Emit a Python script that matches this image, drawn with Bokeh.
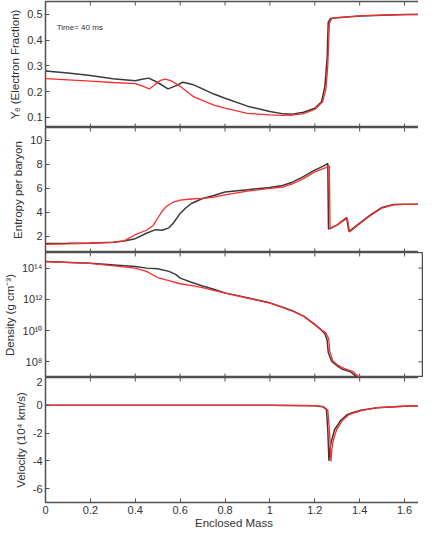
import math
from bokeh.plotting import figure
from bokeh.layouts import column
from bokeh.models import FixedTicker, Range1d, Label
from bokeh.embed import file_html
from bokeh.resources import INLINE

# ---------------- data ----------------
x_ticks = [0, 0.2, 0.4, 0.6, 0.8, 1.0, 1.2, 1.4, 1.6]
x_tick_labels = ["0", "0.2", "0.4", "0.6", "0.8", "1", "1.2", "1.4", "1.6"]

# Panel 1: electron fraction
ye_ticks = [0.1, 0.2, 0.3, 0.4, 0.5]
ye_black_mass = [0, 0.1, 0.2, 0.3, 0.4, 0.43, 0.46, 0.5, 0.546, 0.58, 0.612, 0.66, 0.7, 0.75, 0.8,
                 0.9, 1.0, 1.06, 1.1, 1.15, 1.2, 1.23, 1.245, 1.255, 1.26, 1.27, 1.3, 1.4, 1.5, 1.6, 1.68]
ye_black = [0.28, 0.272, 0.262, 0.25, 0.242, 0.248, 0.252, 0.235, 0.21, 0.222, 0.236, 0.226, 0.21, 0.19, 0.174,
            0.143, 0.122, 0.113, 0.112, 0.119, 0.135, 0.16, 0.22, 0.33, 0.47, 0.484, 0.487, 0.494, 0.497, 0.499, 0.5]
ye_red_mass = [0, 0.1, 0.2, 0.3, 0.4, 0.43, 0.463, 0.49, 0.51, 0.532, 0.56, 0.6, 0.66, 0.75, 0.8,
               0.9, 1.0, 1.06, 1.1, 1.15, 1.2, 1.235, 1.25, 1.258, 1.265, 1.275, 1.3, 1.4, 1.5, 1.6, 1.68]
ye_red = [0.25, 0.245, 0.24, 0.235, 0.231, 0.222, 0.21, 0.228, 0.242, 0.248, 0.242, 0.22, 0.18, 0.147, 0.135,
          0.115, 0.109, 0.107, 0.108, 0.114, 0.13, 0.16, 0.21, 0.3, 0.465, 0.484, 0.487, 0.494, 0.497, 0.499, 0.5]

# Panel 2: entropy per baryon
s_ticks = [2, 4, 6, 8, 10]
s_black_mass = [0, 0.1, 0.2, 0.3, 0.35, 0.4, 0.45, 0.49, 0.52, 0.55, 0.57, 0.6, 0.625, 0.65, 0.7, 0.75, 0.8,
                0.9, 1.0, 1.056, 1.1, 1.143, 1.2, 1.245, 1.258, 1.261, 1.3, 1.342, 1.352, 1.4, 1.45, 1.5,
                1.55, 1.6, 1.68]
s_black = [1.4, 1.42, 1.45, 1.5, 1.6, 1.8, 2.25, 2.55, 2.5, 2.7, 3.1, 3.9, 4.35, 4.73, 5.14, 5.4, 5.68,
           5.88, 6.05, 6.23, 6.5, 6.9, 7.5, 7.9, 8.06, 2.6, 2.95, 3.55, 2.4, 3.1, 3.8, 4.4,
           4.65, 4.67, 4.67]
s_red_mass = [0, 0.1, 0.2, 0.3, 0.35, 0.4, 0.45, 0.48, 0.5, 0.52, 0.54, 0.57, 0.6, 0.65, 0.7, 0.75, 0.8,
              0.9, 1.0, 1.06, 1.1, 1.15, 1.2, 1.25, 1.265, 1.268, 1.3, 1.345, 1.355, 1.4, 1.45, 1.5,
              1.55, 1.6, 1.68]
s_red = [1.32, 1.36, 1.42, 1.5, 1.62, 2.13, 2.5, 2.9, 3.5, 4.1, 4.5, 4.85, 5.0, 5.1, 5.15, 5.25, 5.45,
         5.75, 5.98, 6.1, 6.35, 6.8, 7.35, 7.72, 7.85, 2.6, 2.95, 3.5, 2.35, 3.05, 3.75, 4.35,
         4.62, 4.66, 4.66]

# Panel 3: density (g cm^-3)
rho_ticks = [1e8, 1e10, 1e12, 1e14]
rho_tick_labels = ["10⁸", "10¹⁰", "10¹²", "10¹⁴"]
rho_black_mass = [0, 0.2, 0.4, 0.45, 0.5, 0.55, 0.58, 0.6, 0.65, 0.7, 0.75, 0.8, 0.9, 1.0, 1.05, 1.1,
                  1.15, 1.2, 1.23, 1.245, 1.255, 1.26, 1.275, 1.3, 1.32, 1.36, 1.39, 1.42]
rho_black = [2.63e14, 2.04e14, 1.26e14, 1.0e14, 9.1e13, 6.2e13, 4.0e13, 2.3e13, 1.26e13, 7.2e12, 4.5e12,
             2.6e12, 1.26e12, 6.0e11, 3.4e11, 1.86e11, 8.5e10, 2.4e10, 1.05e10, 6.3e9, 2.5e9, 4.0e8,
             1.1e8, 5.6e7, 3.5e7, 2.3e7, 1.0e7, 4.0e6]
rho_red_mass = [0, 0.2, 0.4, 0.45, 0.5, 0.55, 0.6, 0.66, 0.7, 0.75, 0.8, 0.9, 1.0, 1.05, 1.1, 1.15, 1.2,
                1.23, 1.25, 1.262, 1.267, 1.28, 1.3, 1.33, 1.37, 1.4, 1.43]
rho_red = [2.63e14, 2.0e14, 1.0e14, 6.2e13, 2.5e13, 1.6e13, 1.0e13, 7.2e12, 5.6e12, 3.8e12, 2.5e12, 1.2e12,
           5.8e11, 3.3e11, 1.8e11, 8.5e10, 2.6e10, 1.15e10, 7.0e9, 3.0e9, 4.5e8, 1.2e8, 6.5e7, 3.8e7,
           2.4e7, 1.0e7, 4.0e6]

# Panel 4: velocity (10^4 km/s)
v_ticks = [-6, -4, -2, 0, 2]
v_tick_labels = ["-6", "-4", "-2", "0", "2"]
v_black_mass = [0, 0.5, 1.0, 1.2, 1.235, 1.252, 1.258, 1.263, 1.267, 1.274, 1.288, 1.317, 1.346, 1.36,
                1.405, 1.478, 1.594, 1.68]
v_black = [0, 0, 0, -0.03, -0.1, -0.3, -1.8, -4.0, -3.2, -2.6, -1.76, -1.06, -0.66, -0.58,
           -0.36, -0.17, -0.07, -0.02]
v_red_mass = [0, 0.5, 1.0, 1.2, 1.24, 1.258, 1.266, 1.272, 1.276, 1.283, 1.297, 1.325, 1.352, 1.366,
              1.41, 1.48, 1.6, 1.68]
v_red = [0, 0, 0, -0.03, -0.1, -0.35, -2.0, -4.05, -3.2, -2.5, -1.76, -1.06, -0.68, -0.6,
         -0.37, -0.17, -0.07, -0.02]

# ---------------- style ----------------
FONT = "Liberation Sans"
FRAME = "#505050"
TXT = "#333333"
BLACK = "#3a3a3a"
RED = "#ff2b2b"
X0, X1 = 0, 1.68
FRAME_W = 377


def style_axis(ax):
    ax.axis_line_color = None
    ax.major_tick_in = 4
    ax.major_tick_out = 0
    ax.major_tick_line_color = FRAME
    ax.major_tick_line_width = 1
    ax.minor_tick_line_color = None
    ax.major_label_text_font = FONT
    ax.major_label_text_font_size = "11px"
    ax.major_label_text_color = TXT
    ax.major_label_standoff = 3
    ax.axis_label_text_font = FONT
    ax.axis_label_text_font_size = "11.5px"
    ax.axis_label_text_font_style = "normal"
    ax.axis_label_text_color = TXT
    ax.axis_label_standoff = 3


def make_fig(frame_h, y_range, y_type, y_ticks, y_labels, y_title, top, bottom_labels):
    p = figure(frame_width=FRAME_W, frame_height=frame_h, x_range=Range1d(X0, X1), y_range=y_range,
               y_axis_type=y_type, output_backend="svg", toolbar_location=None,
               x_axis_location="below" if bottom_labels else None,
               min_border_left=40, min_border_right=1, min_border_top=top, min_border_bottom=0)
    p.grid.visible = False
    p.outline_line_color = FRAME
    p.outline_line_width = 1.5
    p.background_fill_color = "white"
    p.border_fill_color = "white"

    if bottom_labels:
        xa = p.xaxis[0]
        xa.ticker = FixedTicker(ticks=x_ticks)
        style_axis(xa)
        xa.major_label_overrides = {t: s for t, s in zip(x_ticks, x_tick_labels)}
        xa.axis_label = "Enclosed Mass"
        xa.major_label_standoff = 3
        xa.axis_label_standoff = 0
    else:
        # inward tick marks along the bottom edge
        p.scatter(x_ticks, [y_range.start] * len(x_ticks), marker="dash", angle=math.pi / 2,
                  size=8, line_color=FRAME, line_width=1)

    ya = p.yaxis[0]
    ya.ticker = FixedTicker(ticks=y_ticks)
    if y_labels is not None:
        ya.major_label_overrides = {t: s for t, s in zip(y_ticks, y_labels)}
    ya.axis_label = y_title
    style_axis(ya)

    # inward tick marks along the top and right edges
    p.scatter(x_ticks, [y_range.end] * len(x_ticks), marker="dash", angle=math.pi / 2,
              size=8, line_color=FRAME, line_width=1)
    p.scatter([X1] * len(y_ticks), y_ticks, marker="dash", size=8, line_color=FRAME, line_width=1)
    return p


p1 = make_fig(126, Range1d(0.06, 0.55), "linear", ye_ticks, None, "Yₑ (Electron Fraction)", 1, False)
p1.line(ye_black_mass, ye_black, line_color=BLACK, line_width=1.5)
p1.line(ye_red_mass, ye_red, line_color=RED, line_width=1.3)
p1.add_layout(Label(x=0.05, y=0.45, text="Time= 40 ms", text_font=FONT, text_font_size="8px",
                    text_color=TXT, text_baseline="middle"))

p2 = make_fig(125, Range1d(0.65, 11.05), "linear", s_ticks, None, "Entropy per baryon", 0, False)
p2.line(s_black_mass, s_black, line_color=BLACK, line_width=1.5)
p2.line(s_red_mass, s_red, line_color=RED, line_width=1.3)

p3 = make_fig(125, Range1d(1e7, 1e15), "log", rho_ticks, rho_tick_labels, "Density (g cm⁻³)", 0, False)
p3.line(rho_black_mass, rho_black, line_color=BLACK, line_width=1.5)
p3.line(rho_red_mass, rho_red, line_color=RED, line_width=1.3)

p4 = make_fig(125, Range1d(-7, 2), "linear", v_ticks, v_tick_labels, "Velocity (10⁴ km/s)", 0, True)
p4.line(v_black_mass, v_black, line_color=BLACK, line_width=1.5)
p4.line(v_red_mass, v_red, line_color=RED, line_width=1.3)

layout = column(p1, p2, p3, p4, spacing=0)
open("out.html", "w").write(file_html(layout, INLINE))
